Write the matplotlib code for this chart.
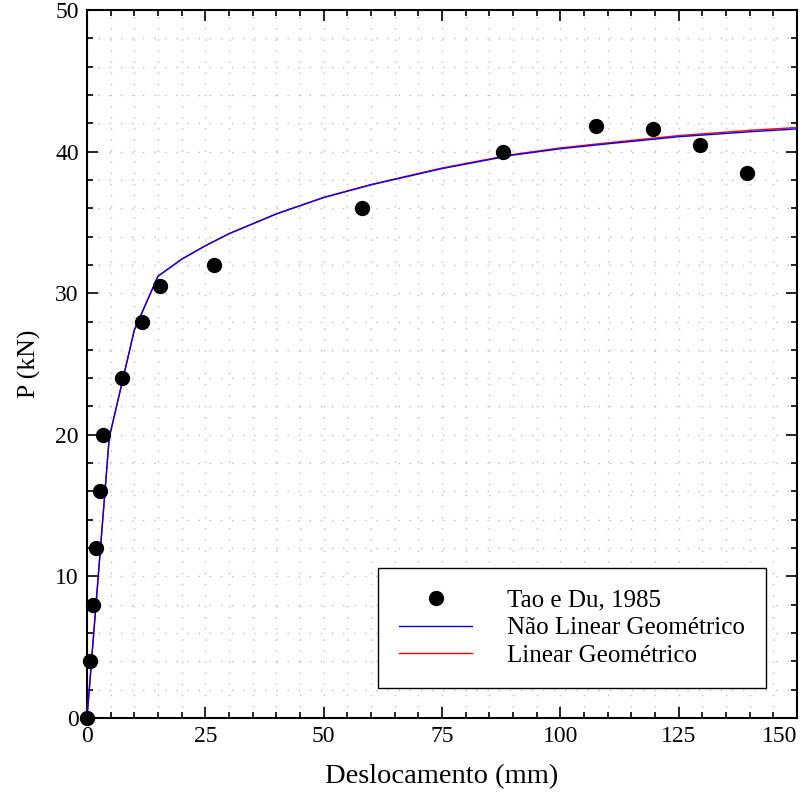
import matplotlib
matplotlib.use('Agg')
import matplotlib.pyplot as plt
from matplotlib.ticker import MultipleLocator

plt.rcParams['font.family'] = ['Liberation Serif', 'DejaVu Serif']

# Experimental data (Tao e Du, 1985)
exp_x = [0, 0.6, 1.3, 1.9, 2.7, 3.4, 7.4, 11.6, 15.4, 26.8, 58, 87.8, 107.6, 119.6, 129.5, 139.5]
exp_y = [0, 4, 8, 12, 16, 20, 24, 28, 30.5, 32, 36, 40, 41.8, 41.6, 40.5, 38.5]

# Numerical curves
nl_x = [0, 4.7, 10, 15, 20, 25, 30, 40, 50, 60, 75, 90, 100, 110, 125, 140, 150]
nl_y = [0, 19.8, 27.4, 31.2, 32.4, 33.35, 34.2, 35.6, 36.75, 37.65, 38.8, 39.75, 40.2, 40.55, 41.05, 41.4, 41.6]
lin_x = [0, 4.7, 10, 15, 20, 25, 30, 40, 50, 60, 75, 90, 100, 110, 125, 140, 150]
lin_y = [0, 19.8, 27.4, 31.2, 32.4, 33.35, 34.2, 35.6, 36.77, 37.68, 38.84, 39.8, 40.26, 40.62, 41.13, 41.5, 41.7]

fig = plt.figure(figsize=(8.03, 7.94), dpi=100)
ax = fig.add_axes([87 / 803, 1 - 718 / 794, 710 / 803, 708 / 794])

ax.plot(lin_x, lin_y, color='red', lw=1.0, label='Linear Geométrico', zorder=3)
ax.plot(nl_x, nl_y, color='blue', lw=1.0, label='Não Linear Geométrico', zorder=3)
ax.plot(exp_x, exp_y, 'o', color='black', ms=10, label='Tao e Du, 1985', zorder=4, clip_on=False)

ax.set_xlim(0, 150)
ax.set_ylim(0, 50)
ax.xaxis.set_major_locator(MultipleLocator(25))
ax.xaxis.set_minor_locator(MultipleLocator(5))
ax.yaxis.set_major_locator(MultipleLocator(10))
ax.yaxis.set_minor_locator(MultipleLocator(2))

ax.grid(which='both', color='#bdbdbd', lw=1.0, linestyle=(0, (1, 7)))
ax.set_axisbelow(True)

ax.tick_params(which='both', direction='in', top=True, right=True, labelsize=17, width=1.2)
ax.tick_params(which='major', length=8, pad=6)
ax.tick_params(which='minor', length=4)
for sp in ax.spines.values():
    sp.set_linewidth(1.5)

ax.set_xlabel('Deslocamento (mm)', fontsize=20.5, labelpad=12)
ax.set_ylabel('P (kN)', fontsize=18.5, labelpad=10)

# last x tick label kept inside the figure
fig.canvas.draw()
for t in ax.get_xticklabels():
    if t.get_text() == '150':
        t.set_horizontalalignment('right')

# Legend order: data, non-linear, linear
h, l = ax.get_legend_handles_labels()
order = [2, 1, 0]
leg = ax.legend([h[i] for i in order], [l[i] for i in order], loc='lower right',
                bbox_to_anchor=((766 - 87) / 710, 30 / 708), bbox_transform=ax.transAxes,
                fontsize=18, fancybox=False, edgecolor='black', framealpha=1,
                borderpad=0.85, handlelength=2.9, handletextpad=1.4,
                labelspacing=0.2, borderaxespad=0)
leg.get_frame().set_linewidth(1.0)

fig.savefig('out.png', dpi=100)
